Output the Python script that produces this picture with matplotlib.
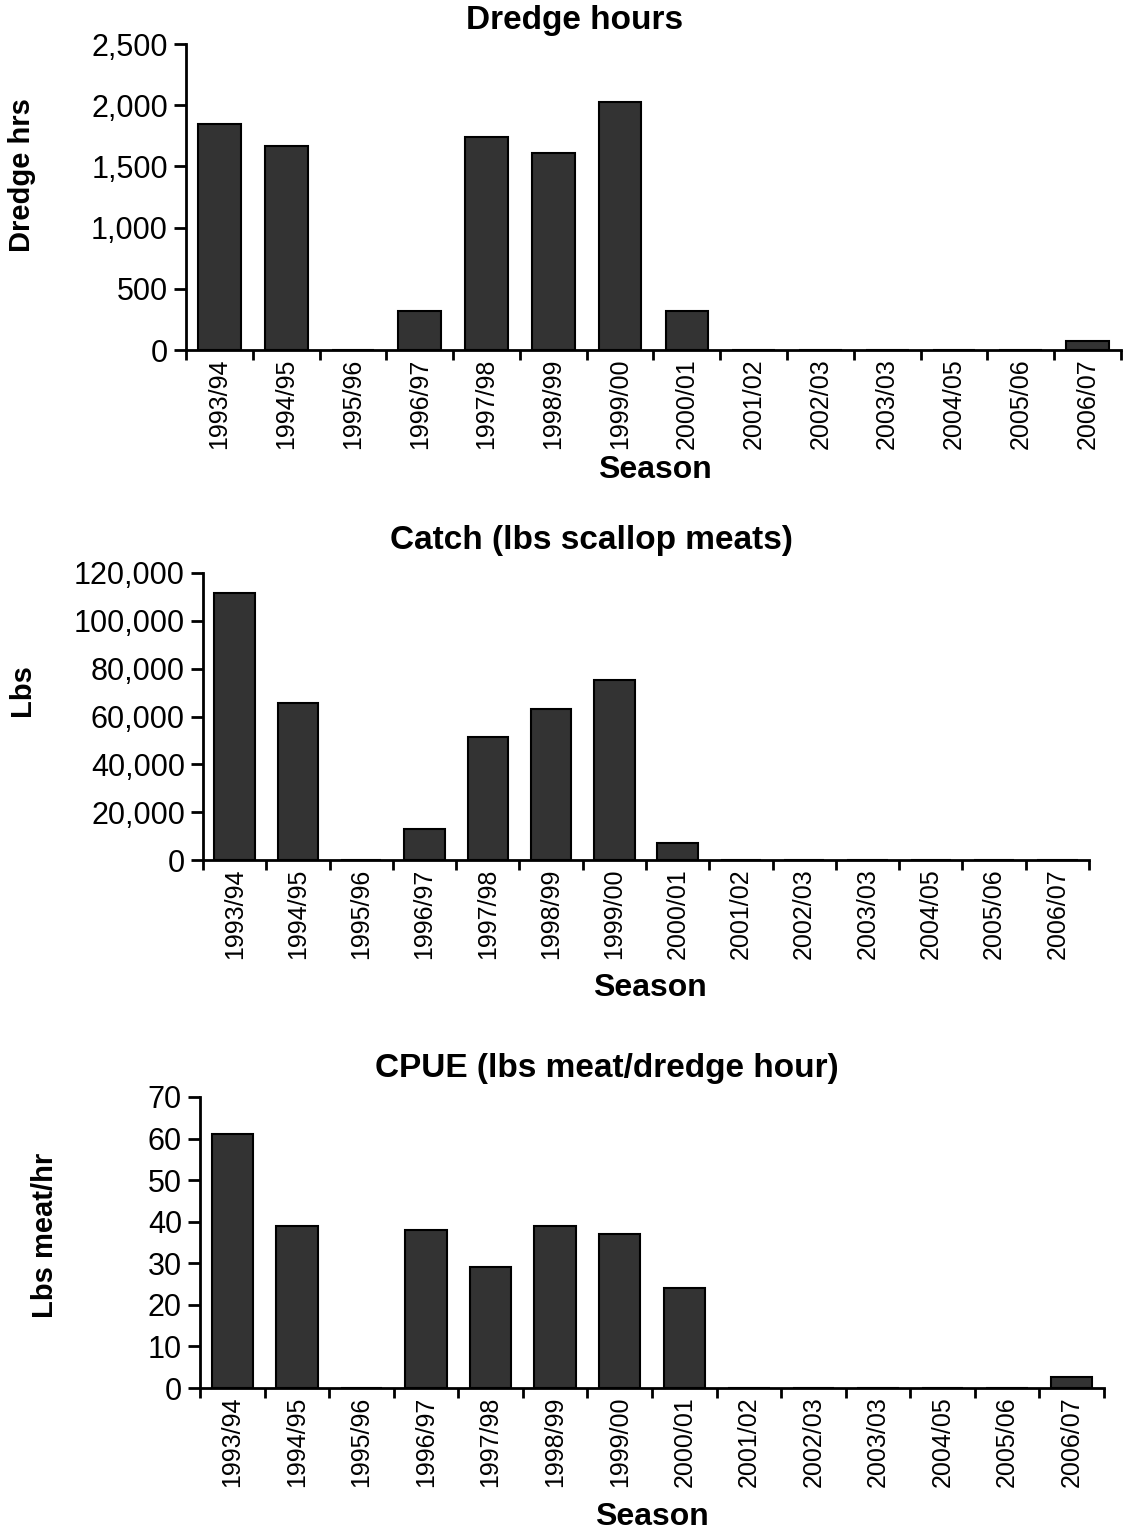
import matplotlib
matplotlib.use("Agg")
import matplotlib.pyplot as plt
from matplotlib.ticker import FuncFormatter
import numpy as np

plt.rcParams['font.family'] = ['Liberation Sans', 'DejaVu Sans']

seasons = ["1993/94", "1994/95", "1995/96", "1996/97", "1997/98", "1998/99", "1999/00",
           "2000/01", "2001/02", "2002/03", "2003/03", "2004/05", "2005/06", "2006/07"]

dredge_hours = [1850, 1670, 0, 320, 1740, 1610, 2030, 320, 0, 0, 0, 0, 0, 75]
catch_lbs = [111500, 65500, 0, 13000, 51500, 63200, 75300, 7100, 0, 0, 0, 0, 0, 0]
cpue = [61, 39, 0, 38, 29, 39, 37, 24, 0, 0, 0, 0, 0, 2.6]

titles = ["Dredge hours", "Catch (lbs scallop meats)", "CPUE (lbs meat/dredge hour)"]
ylabels = ["Dredge hrs", "Lbs", "Lbs meat/hr"]
xlabel = "Season"
ylims = [2500, 120000, 70]
ystep = [500, 20000, 10]

W, H = 1126, 1536
fig = plt.figure(figsize=(W / 100, H / 100), dpi=100)

# axes boxes in pixels: left, right, top, bottom
boxes = [(186, 1121, 44, 350), (203, 1089, 573, 860), (200, 1104, 1097, 1388)]
title_pos = [(575, 20), (591, 540), (607, 1068)]
ylabel_pos = [(22, 175), (22, 690), (45, 1235)]
season_pos = [(655, 470), (650, 988), (652, 1517)]

data = [dredge_hours, catch_lbs, cpue]
fmt = FuncFormatter(lambda v, p: f"{v:,.0f}")

for i in range(3):
    l, r, t, b = boxes[i]
    ax = fig.add_axes([l / W, 1 - b / H, (r - l) / W, (b - t) / H])
    x = np.arange(len(seasons))
    ax.bar(x, data[i], width=0.64, color="#333333", edgecolor="black", linewidth=1.5, zorder=3)
    ax.set_xlim(-0.5, len(seasons) - 0.5)
    ax.set_ylim(0, ylims[i])
    ax.set_yticks(np.arange(0, ylims[i] + ystep[i] / 2, ystep[i]))
    ax.yaxis.set_major_formatter(fmt)
    ax.set_xticks(x)
    ax.set_xticklabels(seasons, rotation=90, fontsize=18)
    ax.set_xticks(np.arange(-0.5, len(seasons), 1.0), minor=True)
    ax.tick_params(axis='x', which='major', length=0, pad=6)
    ax.tick_params(axis='x', which='minor', length=7, width=2, direction='out')
    ax.tick_params(axis='y', length=9, width=2, direction='out', labelsize=22, pad=4)
    for s in ['top', 'right']:
        ax.spines[s].set_visible(False)
    for s in ['left', 'bottom']:
        ax.spines[s].set_linewidth(2)
        ax.spines[s].set_zorder(4)
    ax.patch.set_visible(False)

    fig.text(title_pos[i][0] / W, 1 - title_pos[i][1] / H, titles[i], ha='center', va='center',
             fontsize=24, fontweight='bold')
    fig.text(ylabel_pos[i][0] / W, 1 - ylabel_pos[i][1] / H, ylabels[i], ha='center', va='center',
             rotation=90, fontsize=21, fontweight='bold')
    fig.text(season_pos[i][0] / W, 1 - season_pos[i][1] / H, xlabel, ha='center', va='center',
             fontsize=23, fontweight='bold')

fig.savefig("out.png", dpi=100, facecolor="white")
